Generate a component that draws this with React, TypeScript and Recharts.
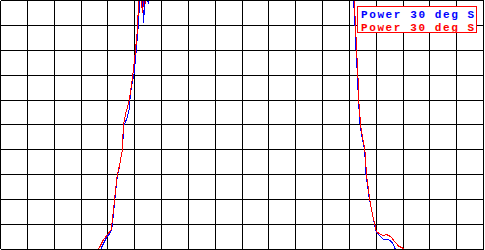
import { LineChart, Line, XAxis, YAxis, CartesianGrid, Legend } from 'recharts';

// x in grid divisions (0..18), y in grid divisions (0..10); values above 10 run off the top
const blueX = [3.69, 3.73, 3.95, 4.10, 4.16, 4.26, 4.35, 4.41, 4.54, 4.60, 4.72, 4.81, 4.82, 4.87, 4.97, 5.06, 5.12, 5.18, 5.22, 5.29, 5.33, 5.39, 5.44, 5.52, 5.55, 5.59,
  13.04, 13.12, 13.16, 13.21, 13.25, 13.30, 13.34, 13.40, 13.47, 13.57, 13.62, 13.75, 13.94, 14.01, 14.16, 14.27, 14.39, 14.46, 14.60, 14.72, 14.76];
const blueY = [-0.2, 0, 0.48, 0.68, 0.92, 2.0, 2.92, 3.2, 4.0, 5.0, 5.28, 5.72, 6.0, 6.48, 7.0, 8.0, 8.8, 9.8, 10.2, 10.2, 9.08, 10.2, 10.08, 9.88, 10.12, 11.6,
  11.6, 10.2, 10.0, 9.0, 8.0, 7.0, 6.0, 5.0, 4.52, 4.0, 3.0, 2.0, 1.0, 0.68, 0.52, 0.4, 0.4, 0.4, 0.28, 0, -0.2];

const redX = [3.62, 3.65, 3.84, 3.99, 4.13, 4.25, 4.35, 4.44, 4.54, 4.58, 4.67, 4.80, 4.93, 5.03, 5.10, 5.15, 5.20, 5.24, 5.29, 5.35, 5.40, 5.44, 5.59,
  13.04, 13.14, 13.18, 13.23, 13.27, 13.32, 13.35, 13.42, 13.49, 13.58, 13.64, 13.76, 13.86, 13.95, 14.01, 14.16, 14.27, 14.39, 14.46, 14.54, 14.72, 14.84, 14.95, 15.02, 15.09];
const redY = [-0.2, 0, 0.4, 0.6, 0.8, 2.0, 3.0, 3.4, 4.0, 5.0, 5.48, 6.0, 7.0, 8.0, 8.8, 10.0, 10.2, 10.2, 9.48, 10.2, 9.88, 10.2, 11.6,
  11.6, 10.2, 10.0, 9.0, 8.0, 7.0, 6.0, 5.0, 4.52, 4.0, 3.0, 2.0, 1.4, 1.0, 0.72, 0.6, 0.56, 0.6, 0.56, 0.52, 0.28, 0.13, 0.08, 0.04, -0.2];

const majorX = [0, 1, 2, 3, 4, 5, 6, 7, 8, 9, 10, 11, 12, 13, 14, 15, 16, 17, 18];
const majorY = [0, 1, 2, 3, 4, 5, 6, 7, 8, 9, 10];
const minorX = [0.5, 1.5, 2.5, 3.5, 4.5, 5.5, 6.5, 7.5, 8.5, 9.5, 10.5, 11.5, 12.5, 13.5, 14.5, 15.5, 16.5, 17.5];
const minorY = [0.5, 1.5, 2.5, 3.5, 4.5, 5.5, 6.5, 7.5, 8.5, 9.5];

const seriesLabel = 'Power 30 deg S';

const blue = blueX.map((x, i) => ({ x, y: blueY[i] }));
const red = redX.map((x, i) => ({ x, y: redY[i] }));

const NoLabel = () => <g />;
// axes with zero size are skipped by recharts, so give them a hair of size
const THIN = 0.01;

function LegendBox({ payload }: { payload?: Array<{ value: string; color: string }> }) {
  if (!payload) return null;
  return (
    <div
      style={{
        width: 120,
        height: 27,
        boxSizing: 'border-box',
        border: '1px solid #ff0000',
        padding: '2px 0 0 3px',
        background: '#fff',
        fontFamily: '"Liberation Mono", monospace',
        fontWeight: 'bold',
        fontSize: 11,
        letterSpacing: 1.6,
        lineHeight: '12.5px',
        whiteSpace: 'nowrap',
      }}
    >
      {payload.map((p, i) => (
        <div key={i} style={{ color: p.color }}>{p.value}</div>
      ))}
    </div>
  );
}

export default function App() {
  const minorAxis = { type: 'number' as const, mirror: true, tick: NoLabel, tickSize: 4, interval: 0 as const, tickLine: { stroke: '#000' } };
  return (
    <div style={{ position: 'absolute', left: 0, top: 0, background: '#fff' }}>
      <style>{'body{margin:0} .recharts-surface line, .recharts-surface path{shape-rendering:crispEdges}'}</style>
      <LineChart width={485} height={250} margin={{ top: 0.5, right: 1.5, bottom: 0.5, left: 0.5 }}>
        <CartesianGrid xAxisId="grid" yAxisId="grid" stroke="#000" strokeWidth={1} />
        <XAxis xAxisId="grid" dataKey="x" type="number" domain={[0, 18]} ticks={majorX} interval={0} allowDataOverflow height={THIN}
          tick={NoLabel} tickLine={false} axisLine={{ stroke: '#000' }} />
        <XAxis xAxisId="minorB" {...minorAxis} domain={[0, 18]} ticks={minorX} height={THIN} axisLine={false} />
        <XAxis xAxisId="minorT" {...minorAxis} orientation="top" domain={[0, 18]} ticks={minorX} height={THIN} axisLine={{ stroke: '#000' }} />
        <YAxis yAxisId="grid" type="number" domain={[0, 10]} ticks={majorY} interval={0} allowDataOverflow width={THIN}
          tick={NoLabel} tickLine={false} axisLine={{ stroke: '#000' }} />
        <YAxis yAxisId="minorL" {...minorAxis} domain={[0, 10]} ticks={minorY} width={THIN} axisLine={false} />
        <YAxis yAxisId="minorR" {...minorAxis} orientation="right" domain={[0, 10]} ticks={minorY} width={THIN} axisLine={{ stroke: '#000' }} />
        <Legend layout="vertical" align="center" verticalAlign="middle" content={<LegendBox />}
          wrapperStyle={{ left: 357, top: 6, width: 120 }} />
        <Line xAxisId="grid" yAxisId="grid" data={blue} dataKey="y" name={seriesLabel} type="linear"
          stroke="#0000ff" strokeWidth={1} dot={false} isAnimationActive={false} />
        <Line xAxisId="grid" yAxisId="grid" data={red} dataKey="y" name={seriesLabel} type="linear"
          stroke="#ff0000" strokeWidth={1} dot={false} isAnimationActive={false} />
      </LineChart>
    </div>
  );
}
